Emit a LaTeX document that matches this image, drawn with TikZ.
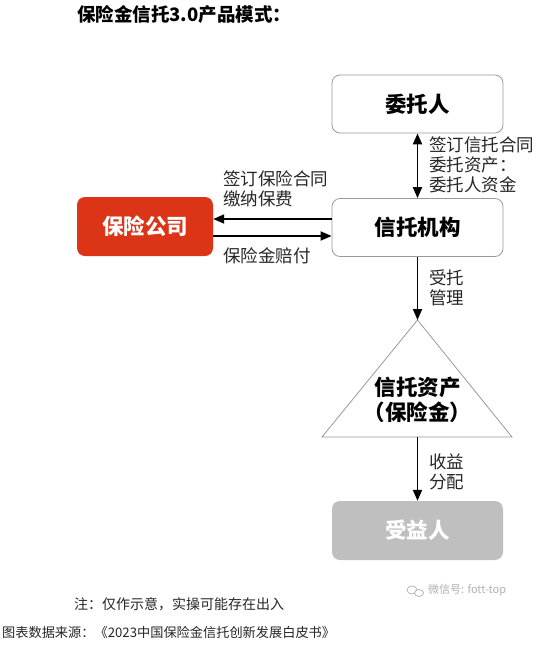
\documentclass[tikz,border=0pt]{standalone}
\usepackage{fontspec}
\setmainfont{Noto Sans CJK SC}
\usetikzlibrary{arrows.meta}
\definecolor{redbox}{HTML}{DC3416}
\definecolor{graybox}{HTML}{BFBFBF}
\definecolor{edge}{HTML}{9A9A9A}
\definecolor{wm}{HTML}{B0B0B0}
\tikzset{
  boxw/.style={draw=edge, line width=0.8pt, rounded corners=8pt, fill=white,
    minimum width=171pt, minimum height=58pt, font=\fontsize{21.5}{25}\selectfont\bfseries},
  boxr/.style={fill=redbox, rounded corners=8pt, text=white,
    minimum width=136pt, minimum height=59pt, font=\fontsize{21.5}{25}\selectfont\bfseries},
  boxg/.style={fill=graybox, rounded corners=8pt, text=white,
    minimum width=171pt, minimum height=59pt, font=\fontsize{21.5}{25}\selectfont\bfseries},
  arr/.style={line width=1.8pt, -{Triangle[length=11pt,width=9pt]}},
  darr/.style={line width=1.8pt, {Triangle[length=11pt,width=9pt]}-{Triangle[length=11pt,width=9pt]}},
  lbl/.style={anchor=west, align=left, inner sep=0pt, font=\fontsize{17.5}{20}\selectfont, text=black!85},
}
\begin{document}
\begin{tikzpicture}[x=1pt,y=-1pt]
\useasboundingbox (0,0) rectangle (544,646);
% title
\node[anchor=west, inner sep=0pt, font=\fontsize{18.5}{20}\selectfont\bfseries] (title) at (77,14) {保险金信托3.0产品模式：};
% boxes
\node[boxw] (wtr) at (417.5,104) {委托人};
\node[boxw] (xtjg) at (417.5,227.5) {信托机构};
\node[boxr] (bxgs) at (145,226.5) {保险公司};
\node[boxg] (syr) at (417.5,530.5) {受益人};
% triangle
\coordinate (apex) at (417.5,320);
\coordinate (bl) at (322,437);
\coordinate (br) at (512,437);
\coordinate (base) at (417.5,437);
\draw[edge, line width=0.8pt, fill=white] (apex) -- (bl) -- (br) -- cycle;
\node[align=center, font=\fontsize{21.5}{25}\selectfont\bfseries, inner sep=0pt] (tri) at (417.5,400) {信托资产\\（保险金）};
% connectors
\draw[darr] (wtr.south) -- (xtjg.north);
\draw[arr] (xtjg.west |- 0,219) -- (bxgs.east |- 0,219);
\draw[arr] (bxgs.east |- 0,236) -- (xtjg.west |- 0,236);
\draw[arr] (xtjg.south) -- (apex);
\draw[arr] (base) -- (syr.north);
% labels
\node[lbl] (l1) at (429,165) {签订信托合同\\委托资产：\\委托人资金};
\node[lbl] (l2) at (223,189) {签订保险合同\\缴纳保费};
\node[lbl] (l3) at (223,256) {保险金赔付};
\node[lbl] (l4) at (429,288) {受托\\管理};
\node[lbl] (l5) at (429,472) {收益\\分配};
% notes
\node[anchor=west, inner sep=0pt, font=\fontsize{14}{16}\selectfont, text=black!85] (note) at (74,604) {注：仅作示意，实操可能存在出入};
\node[anchor=west, inner sep=0pt, font=\fontsize{13.2}{15}\selectfont, text=black!85] (src) at (2,632) {图表数据来源：《2023中国保险金信托创新发展白皮书》};
% watermark
\draw[wm, line width=0.7pt] (412,590) ellipse (5pt and 4pt);
\draw[wm, line width=0.7pt, fill=white] (419,593) ellipse (4.5pt and 3.5pt);
\node[anchor=west, inner sep=0pt, font=\fontsize{11}{13}\selectfont, text=wm] (wmt) at (428,590) {微信号: fott-top};
\end{tikzpicture}
\end{document}
